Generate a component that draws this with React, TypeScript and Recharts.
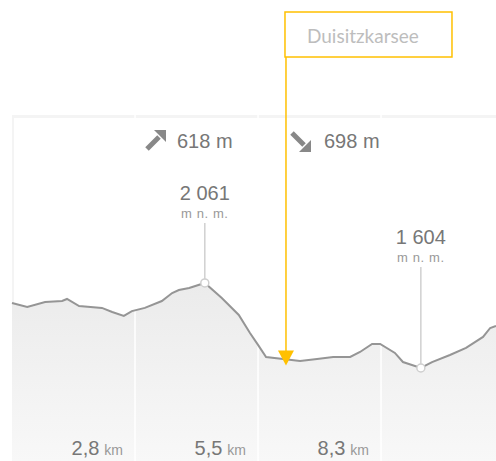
import { ComposedChart, Area, Line, XAxis, YAxis, ReferenceLine, ReferenceDot } from 'recharts';

// profile: distance along the trail (km) and height (m)
const distanceKm = [0, 0.34, 0.74, 1.12, 1.23, 1.5, 2.01, 2.24, 2.5, 2.68, 2.97, 3.35, 3.58, 3.73, 3.96, 4.31, 4.69, 5.07, 5.32, 5.5, 5.68, 6.06, 6.44, 6.82, 7.18, 7.56, 7.78, 8.05, 8.23, 8.56, 8.74, 9.14, 9.39, 9.79, 10.15, 10.53, 10.69, 10.82];
const elevationM = [1953, 1932, 1959, 1964, 1975, 1937, 1927, 1905, 1884, 1910, 1927, 1964, 2007, 2023, 2034, 2061, 1980, 1889, 1792, 1728, 1663, 1652, 1642, 1652, 1663, 1663, 1690, 1733, 1733, 1685, 1636, 1604, 1636, 1674, 1712, 1771, 1819, 1830];

const tickKm = [2.75, 5.5, 8.25];
const tickLabels = ['2,8', '5,5', '8,3'];

const ascentM = 618;
const descentM = 698;

const extremaKm = [4.31, 9.14];
const extremaM = [2061, 1604];
const extremaLabels = ['2 061', '1 604'];
const extremaLift = [83, 124];
const heightUnit = 'm n. m.';

const markerName = 'Duisitzkarsee';
const markerKm = 6.125;
const markerM = 1650;

const data = distanceKm.map((km, i) => ({ km, elev: elevationM[i] }));

const W = 496;
const H = 461;
const FONT = '"Liberation Sans", Arial, sans-serif';
const ORANGE = '#ffc000';

function KmLabel(props: any) {
  const vb = props.viewBox || {};
  const x = vb.x ?? 0;
  const bottom = (vb.y ?? 0) + (vb.height ?? 0);
  return (
    <text x={x - 12} y={bottom - 6} textAnchor="end" fontFamily={FONT}>
      <tspan fontSize={20} fill="#777">{props.text}</tspan>
      <tspan fontSize={14} fill="#999" dx={5}>km</tspan>
    </text>
  );
}

// white divider, only visible where it crosses the grey fill
function Divider(props: any) {
  return <line x1={props.x1} y1={props.y1} x2={props.x2} y2={props.y2} stroke="#ffffff" strokeWidth={1.5} />;
}

function ExtremumDot(props: any) {
  const { cx, cy, label, lift } = props;
  return (
    <g>
      <line x1={cx} x2={cx} y1={cy - lift + 23} y2={cy - 4} stroke="#d0d0d0" strokeWidth={1.5} />
      <circle cx={cx} cy={cy} r={4} fill="#fff" stroke="#cfcfcf" strokeWidth={1.5} />
      <text x={cx} y={cy - lift} textAnchor="middle" fontFamily={FONT} fontSize={20} fill="#777">{label}</text>
      <text x={cx} y={cy - lift + 18} textAnchor="middle" fontFamily={FONT} fontSize={13} letterSpacing={0.6} fill="#999">{heightUnit}</text>
    </g>
  );
}

function MarkerShape(props: any) {
  const { cx, cy } = props;
  const boxTop = 12;
  return (
    <g>
      <rect x={cx - 1} y={boxTop} width={167} height={45} fill="#fff" stroke={ORANGE} strokeWidth={1.5} />
      <text x={cx + 21} y={boxTop + 31} fontFamily='Lato, "Open Sans", sans-serif' fontSize={19} fill="#bdbdbd">{markerName}</text>
      <line x1={cx} x2={cx} y1={boxTop + 45} y2={cy - 8} stroke={ORANGE} strokeWidth={1.5} />
      <polygon points={`${cx - 8},${cy - 9} ${cx + 8},${cy - 9} ${cx},${cy + 6}`} fill={ORANGE} />
    </g>
  );
}

function Totals() {
  return (
    <svg width={W} height={H} style={{ position: 'absolute', left: 0, top: 0, pointerEvents: 'none' }}>
      <g fill="#888" stroke="#888">
        <line x1={147} y1={149} x2={159} y2={137} strokeWidth={5} />
        <polygon points="166,130 166,142 154,130" stroke="none" />
        <line x1={292} y1={133} x2={304} y2={145} strokeWidth={5} />
        <polygon points="311,152 311,140 299,152" stroke="none" />
      </g>
      <text x={177} y={148} fontFamily={FONT} fontSize={20} fill="#777">{`${ascentM} m`}</text>
      <text x={324} y={148} fontFamily={FONT} fontSize={20} fill="#777">{`${descentM} m`}</text>
    </svg>
  );
}

export default function App() {
  return (
    <div style={{ position: 'absolute', left: 0, top: 0, width: W, height: H, background: '#fff', overflow: 'hidden' }}>
      <div style={{ position: 'absolute', left: 12, top: 115, width: W - 12, height: H - 115, boxSizing: 'border-box', borderTop: '3px solid #f4f4f4', borderLeft: '2px solid #f4f4f4' }} />
      <div style={{ position: 'absolute', left: 0, top: 0 }}>
        <ComposedChart width={W} height={H} data={data} margin={{ top: 115, left: 12, right: 0, bottom: 0 }}>
          <defs>
            <linearGradient id="profileFill" x1="0" y1="0" x2="0" y2="1">
              <stop offset="0%" stopColor="#ebebeb" />
              <stop offset="100%" stopColor="#f8f8f8" />
            </linearGradient>
          </defs>
          <XAxis dataKey="km" type="number" domain={[0, 10.82]} hide />
          <YAxis type="number" domain={[1104, 2964]} hide />
          <Area type="linear" dataKey="elev" stroke="none" fill="url(#profileFill)" fillOpacity={1} isAnimationActive={false} />
          {tickKm.map((km, i) => (
            <ReferenceLine key={km} x={km} shape={Divider}
              label={(p: any) => <KmLabel {...p} text={tickLabels[i]} />} />
          ))}
          <Line type="linear" dataKey="elev" stroke="#959595" strokeWidth={2} dot={false} activeDot={false} isAnimationActive={false} />
          {extremaKm.map((km, i) => (
            <ReferenceDot key={km} x={km} y={extremaM[i]} r={4}
              shape={(p: any) => <ExtremumDot {...p} label={extremaLabels[i]} lift={extremaLift[i]} />} />
          ))}
          <ReferenceDot x={markerKm} y={markerM} r={4} shape={(p: any) => <MarkerShape {...p} />} />
        </ComposedChart>
      </div>
      <Totals />
    </div>
  );
}
